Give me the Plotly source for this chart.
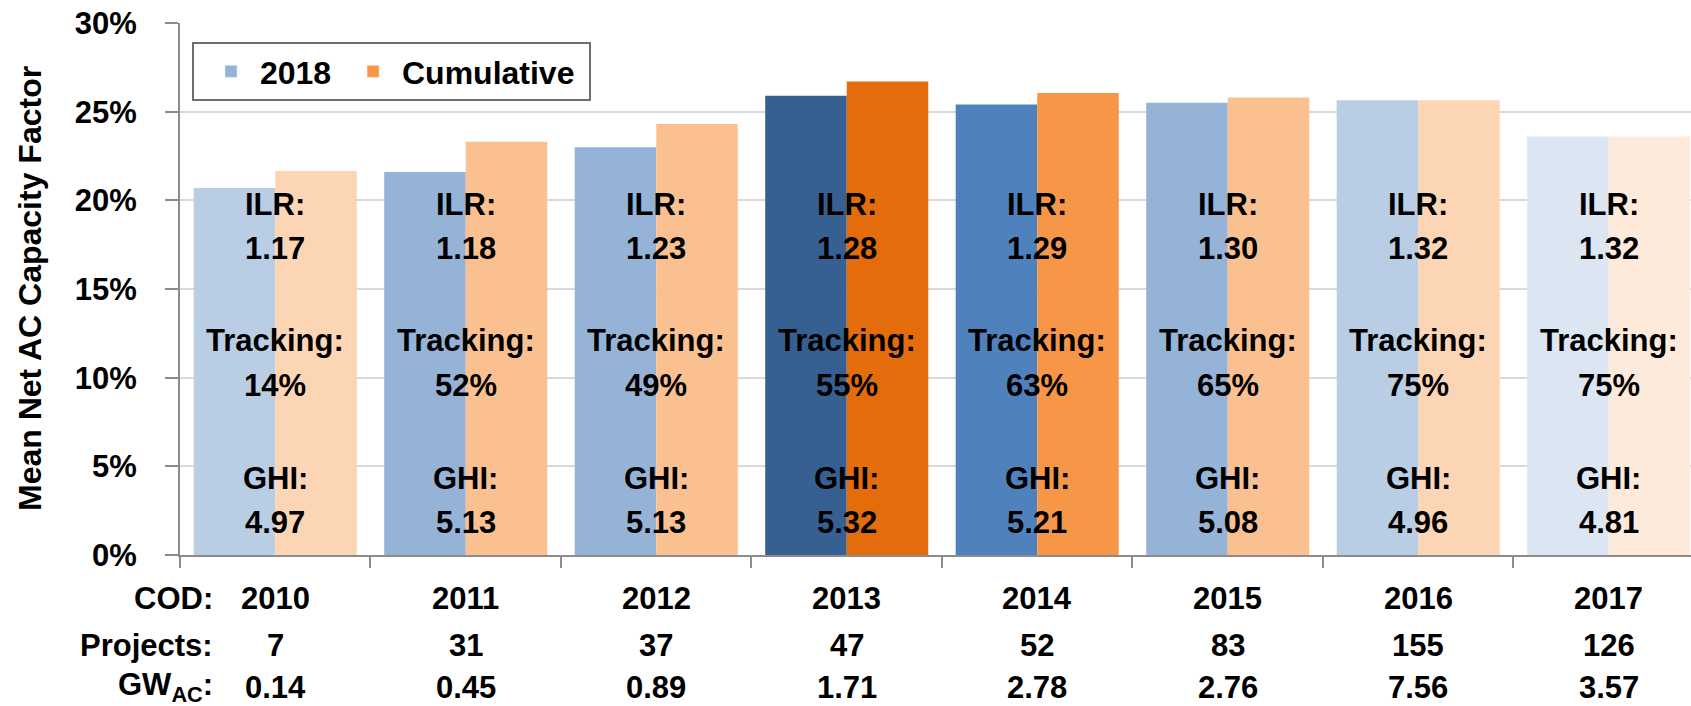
import plotly.graph_objects as go

# ---- data ----
years = ["2010", "2011", "2012", "2013", "2014", "2015", "2016", "2017"]
cf_2018 = [20.7, 21.6, 23.0, 25.9, 25.4, 25.5, 25.65, 23.6]
cf_cumulative = [21.65, 23.3, 24.3, 26.7, 26.05, 25.8, 25.65, 23.6]
ilr = ["1.17", "1.18", "1.23", "1.28", "1.29", "1.30", "1.32", "1.32"]
tracking = ["14%", "52%", "49%", "55%", "63%", "65%", "75%", "75%"]
ghi = ["4.97", "5.13", "5.13", "5.32", "5.21", "5.08", "4.96", "4.81"]
projects = ["7", "31", "37", "47", "52", "83", "155", "126"]
gw_ac = ["0.14", "0.45", "0.89", "1.71", "2.78", "2.76", "7.56", "3.57"]

blue_colors = ["#B9CDE5", "#95B3D7", "#95B3D7", "#376092", "#4F81BD", "#95B3D7", "#B9CDE5", "#DCE6F2"]
orange_colors = ["#FCD5B5", "#FAC090", "#FAC090", "#E46C0A", "#F79646", "#FAC090", "#FCD5B5", "#FDEADA"]
legend_blue = "#95B3D7"
legend_orange = "#F79646"

FONT = "Liberation Sans, Arial, sans-serif"
BW = 0.428
NB = "\u00a0"

fig = go.Figure()
fig.add_trace(go.Bar(x=years, y=cf_2018, marker=dict(color=blue_colors, line=dict(width=0)),
                     offset=-BW, width=BW, showlegend=False, name="2018"))
fig.add_trace(go.Bar(x=years, y=cf_cumulative, marker=dict(color=orange_colors, line=dict(width=0)),
                     offset=0, width=BW, showlegend=False, name="Cumulative"))
# legend entries
fig.add_trace(go.Bar(x=[None], y=[None], marker=dict(color=legend_blue),
                     name=NB + "2018", showlegend=True))
fig.add_trace(go.Bar(x=[None], y=[None], marker=dict(color=legend_orange),
                     name=NB + "Cumulative" + NB, showlegend=True))

L, T, B = 180, 23, 151
W, H = 1691, 706
plot_h = H - T - B

def py(ypix):
    return (H - B - ypix) / plot_h

annotations = []
label_rows = [("ILR:", None, 205), (None, ilr, 248), ("Tracking:", None, 340),
              (None, tracking, 385), ("GHI:", None, 478), (None, ghi, 522)]
for i, yr in enumerate(years):
    for head, vals, ypix in label_rows:
        txt = head if head is not None else vals[i]
        annotations.append(dict(x=i, y=py(ypix), xref="x", yref="paper", text=txt,
                                showarrow=False, xanchor="center", yanchor="middle"))

bottom_rows = [("COD:", years, 598), ("Projects:", projects, 645), ("GW<sub>AC</sub>:", gw_ac, 687)]
for head, vals, ypix in bottom_rows:
    annotations.append(dict(x=(215 - L) / (W - L), y=py(ypix), xref="paper", yref="paper", text=head,
                            showarrow=False, xanchor="right", yanchor="middle"))
    for i, v in enumerate(vals):
        annotations.append(dict(x=i, y=py(ypix), xref="x", yref="paper", text=v,
                                showarrow=False, xanchor="center", yanchor="middle"))

annotations.append(dict(x=(30 - L) / (W - L), y=0.5, xref="paper", yref="paper",
                        text="Mean Net AC Capacity Factor", textangle=-90, showarrow=False,
                        xanchor="center", yanchor="middle", font=dict(size=32)))

fig.update_layout(
    width=W, height=H,
    margin=dict(l=L, r=0, t=T, b=B, pad=0),
    paper_bgcolor="white", plot_bgcolor="white",
    font=dict(family=FONT, size=31, color="black", weight="bold"),
    barmode="overlay",
    showlegend=True,
    legend=dict(orientation="h", x=(192 - L) / (W - L), y=py(42), xanchor="left", yanchor="top",
                bgcolor="white", bordercolor="#6e6e6e", borderwidth=2, indentation=17,
                font=dict(family=FONT, size=32, color="black", weight="bold")),
    annotations=annotations,
    xaxis=dict(type="category", range=[-0.5, 7.432], showticklabels=False,
               tickson="boundaries", ticks="outside", ticklen=11, tickwidth=2, tickcolor="#8c8c8c",
               showline=True, linecolor="#8c8c8c", linewidth=2, showgrid=False, zeroline=False),
    yaxis=dict(range=[0, 30], dtick=5, ticksuffix="%", ticks="outside", ticklen=13, tickwidth=2,
               tickcolor="#8c8c8c", showline=True, linecolor="#8c8c8c", linewidth=2,
               showgrid=True, gridcolor="#d9d9d9", gridwidth=2, zeroline=False,
               ticklabelstandoff=22, tickfont=dict(size=31)),
)

fig.write_html("out.html", config={"displayModeBar": False},
               post_script="document.body.style.margin='0';document.body.style.overflow='hidden';")
